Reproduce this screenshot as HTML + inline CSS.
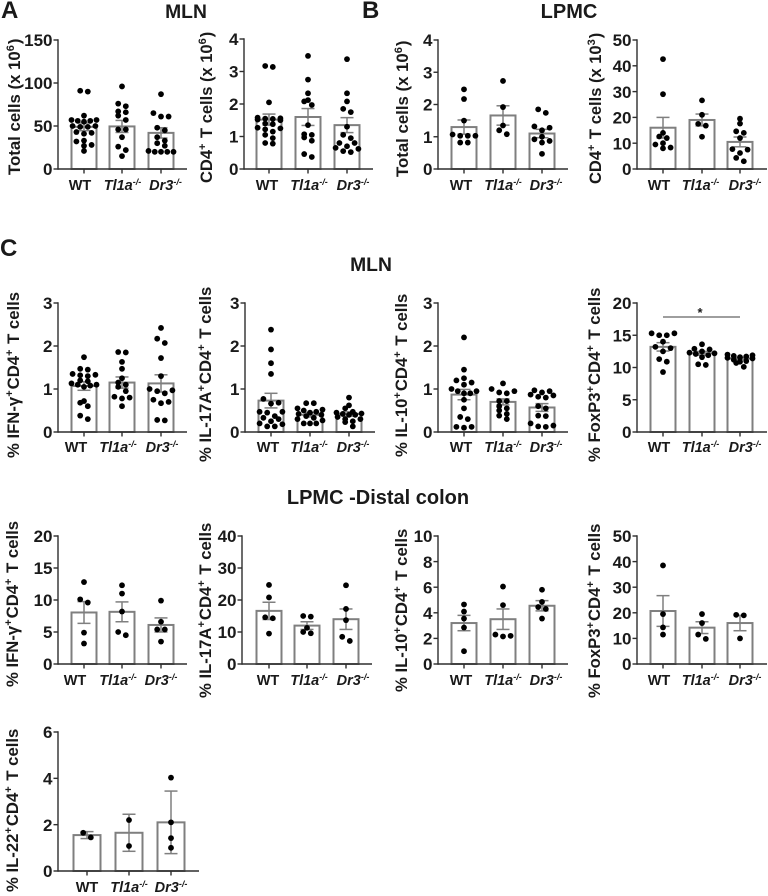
<!DOCTYPE html>
<html lang="en">
<head>
<meta charset="utf-8">
<title>MLN and LPMC T cell panels</title>
<style>
html,body{margin:0;padding:0;background:#fff;width:768px;height:896px;overflow:hidden}
svg{display:block}
text{font-family:"Liberation Sans",Arial,sans-serif;font-weight:bold;fill:#1a1a1a}
</style>
</head>
<body>
<svg id="figure" width="768" height="896" viewBox="0 0 768 896" xmlns="http://www.w3.org/2000/svg">
  <text x="1" y="18" font-size="24">A</text>
  <text x="362" y="18" font-size="24">B</text>
  <text x="0" y="256" font-size="24">C</text>
  <text x="186" y="18" font-size="19.3" text-anchor="middle">MLN</text>
  <text x="569" y="18" font-size="20" text-anchor="middle">LPMC</text>
  <text x="371" y="271" font-size="19.3" text-anchor="middle">MLN</text>
  <text x="378" y="504" font-size="20" text-anchor="middle">LPMC -Distal colon</text>
</svg>
<script>
// Shared categories
const categories = ['WT', 'Tl1a', 'Dr3'];

// Total cells MLN
const a1Ticks = [0, 50, 100, 150];
const a1Means = [49, 49.5, 42];
const a1Errors = [4.5, 7, 6];
const a1Wt = [91, 90, 62, 57, 57, 56, 56, 55, 50, 50, 49, 49, 43, 42, 41, 33, 32, 28, 27, 21];
const a1Tl1a = [96, 76, 73, 67, 66, 62, 57, 46, 46, 37, 26, 22, 15];
const a1Dr3 = [87, 65, 61, 61, 48, 45, 37, 33, 30, 27, 21, 20, 20, 20, 20];

// CD4 T cells MLN
const a2Ticks = [0, 1, 2, 3, 4];
const a2Means = [1.52, 1.6, 1.35];
const a2Errors = [0.17, 0.26, 0.23];
const a2Wt = [3.17, 3.14, 2.05, 1.58, 1.56, 1.55, 1.54, 1.52, 1.5, 1.4, 1.38, 1.27, 1.25, 1.22, 1.15, 1.05, 0.95, 0.8, 0.78];
const a2Tl1a = [3.48, 2.75, 2.33, 2.12, 2.08, 1.97, 1.35, 1.07, 1.05, 0.97, 0.87, 0.46, 0.37];
const a2Dr3 = [3.38, 2.33, 2.08, 1.85, 1.75, 1.3, 1.05, 0.95, 0.8, 0.8, 0.7, 0.65, 0.62, 0.55, 0.52];

// Total cells LPMC
const b1Ticks = [0, 1, 2, 3, 4];
const b1Means = [1.3, 1.66, 1.1];
const b1Errors = [0.22, 0.3, 0.13];
const b1Wt = [2.47, 2.17, 1.5, 1.07, 1.03, 1.03, 1.03, 0.82, 0.82];
const b1Tl1a = [2.73, 1.92, 1.35, 1.2, 1.08];
const b1Dr3 = [1.85, 1.74, 1.32, 1.28, 1.2, 1.0, 0.92, 0.87, 0.82, 0.47];

// CD4 T cells LPMC
const b2Ticks = [0, 10, 20, 30, 40, 50];
const b2Means = [16, 19, 10.5];
const b2Errors = [4, 2.3, 1.9];
const b2Wt = [42.6, 29, 14, 12.6, 12, 10, 9.5, 8.3, 8];
const b2Tl1a = [26.6, 21, 17.5, 16.8, 12.5];
const b2Dr3 = [19.5, 17.6, 14.6, 14, 12, 7.7, 7.5, 6.2, 4.3, 3];

// MLN cytokines
const c1Ticks = [0, 1, 2, 3];
const c1Means = [1.07, 1.15, 1.13];
const c1Errors = [0.1, 0.13, 0.2];
const c1Wt = [1.74, 1.47, 1.45, 1.35, 1.33, 1.32, 1.3, 1.2, 1.18, 1.13, 1.1, 1.1, 1.08, 1.05, 0.72, 0.68, 0.6, 0.38, 0.3];
const c1Tl1a = [1.86, 1.85, 1.63, 1.47, 1.25, 1.15, 1.1, 1.05, 0.95, 0.82, 0.8, 0.78, 0.6];
const c1Dr3 = [2.42, 2.17, 2.07, 1.72, 1.3, 1.0, 0.97, 0.95, 0.9, 0.75, 0.7, 0.67, 0.28, 0.27];

const c2Ticks = [0, 1, 2, 3];
const c2Means = [0.73, 0.4, 0.42];
const c2Errors = [0.17, 0.05, 0.05];
const c2Wt = [2.38, 1.92, 1.6, 1.35, 0.77, 0.68, 0.66, 0.47, 0.47, 0.45, 0.37, 0.33, 0.3, 0.25, 0.2, 0.18, 0.13, 0.13];
const c2Tl1a = [0.67, 0.67, 0.55, 0.52, 0.5, 0.47, 0.45, 0.42, 0.4, 0.37, 0.33, 0.3, 0.27, 0.2, 0.2, 0.2];
const c2Dr3 = [0.8, 0.62, 0.55, 0.47, 0.45, 0.43, 0.42, 0.4, 0.4, 0.35, 0.3, 0.3, 0.25, 0.23, 0.13];

const c3Ticks = [0, 1, 2, 3];
const c3Means = [0.87, 0.7, 0.57];
const c3Errors = [0.12, 0.07, 0.09];
const c3Wt = [2.2, 1.45, 1.25, 1.2, 1.15, 1.1, 1.0, 0.95, 0.95, 0.9, 0.9, 0.75, 0.55, 0.35, 0.3, 0.12, 0.12, 0.1];
const c3Tl1a = [1.13, 1.0, 0.95, 0.92, 0.9, 0.72, 0.72, 0.6, 0.55, 0.5, 0.42, 0.38, 0.3];
const c3Dr3 = [0.97, 0.95, 0.92, 0.87, 0.85, 0.82, 0.8, 0.6, 0.55, 0.38, 0.37, 0.2, 0.15, 0.13, 0.12];

const c4Ticks = [0, 5, 10, 15, 20];
const c4Means = [13.2, 12.2, 11.4];
const c4Errors = [0.65, 0.3, 0.15];
const c4Wt = [15.3, 15.3, 15, 15, 14, 13.2, 13, 12.5, 11.3, 10.9, 9.3];
const c4Tl1a = [13.6, 12.9, 12.8, 12.5, 12.3, 12.2, 12.1, 11.9, 11.6, 10.5, 10.4];
const c4Dr3 = [12, 11.9, 11.8, 11.7, 11.6, 11.5, 11.4, 11.2, 11, 10.9, 10.7, 10.1];

// LPMC distal colon cytokines
const d1Ticks = [0, 5, 10, 15, 20];
const d1Means = [8.05, 8.15, 6.1];
const d1Errors = [1.7, 1.55, 1.1];
const d1Wt = [12.8, 10.1, 9.6, 4.9, 3.2];
const d1Tl1a = [12.3, 11, 8.2, 5, 4.5];
const d1Dr3 = [9.9, 6.6, 5.4, 5.4, 3.5];

const d2Ticks = [0, 10, 20, 30, 40];
const d2Means = [16.6, 12, 14];
const d2Errors = [2.7, 1.2, 3.2];
const d2Wt = [24.7, 20.8, 14.6, 14.3, 9.5];
const d2Tl1a = [15, 14.8, 11.3, 10, 9.6];
const d2Dr3 = [24.6, 17.2, 13.7, 8.5, 7.2];

const d3Ticks = [0, 2, 4, 6, 8, 10];
const d3Means = [3.2, 3.5, 4.55];
const d3Errors = [0.6, 0.8, 0.4];
const d3Wt = [4.65, 4.1, 3.55, 2.85, 1.0];
const d3Tl1a = [6.05, 4.6, 2.3, 2.2, 2.15];
const d3Dr3 = [5.8, 4.85, 4.45, 4.3, 3.55];

const d4Ticks = [0, 10, 20, 30, 40, 50];
const d4Means = [20.7, 14.2, 16];
const d4Errors = [6, 2.3, 3];
const d4Wt = [38.5, 19.5, 14.3, 11.5];
const d4Tl1a = [19.5, 16, 11.5, 9.8];
const d4Dr3 = [19.2, 19, 10];

const e1Ticks = [0, 2, 4, 6];
const e1Means = [1.55, 1.65, 2.1];
const e1Errors = [0.15, 0.8, 1.35];
const e1Wt = [1.65, 1.45];
const e1Tl1a = [2.2, 1.08];
const e1Dr3 = [4.03, 2.1, 1.42, 1.0];

// Layout (geometry only; all marks are derived from the arrays above)
const supTight = s => '<tspan dy="-6" font-size="11">' + s + '</tspan><tspan dy="6" dx="1">';
const ifn = '% IFN-\u03B3' + supTight('+') + 'CD4</tspan>' + supTight('+') + ' T cells</tspan>';
const il17 = '% IL-17A' + supTight('+') + 'CD4</tspan>' + supTight('+') + ' T cells</tspan>';
const il10 = '% IL-10' + supTight('+') + 'CD4</tspan>' + supTight('+') + ' T cells</tspan>';
const foxp3 = '% FoxP3' + supTight('+') + 'CD4</tspan>' + supTight('+') + ' T cells</tspan>';
const il22 = '% IL-22' + supTight('+') + 'CD4</tspan>' + supTight('+') + ' T cells</tspan>';

const panels = [
  {id:'total-cells-mln', ticks:a1Ticks, means:a1Means, errors:a1Errors, points:[a1Wt,a1Tl1a,a1Dr3], ax:58, right:187, top:40, base:169, cx:[84,122,161], lx:[80,122.5,165.5], ly:190, lbx:20, lby:175, fs:16.8,
    label:'Total cells (x 10' + supTight('6') + ')</tspan>'},
  {id:'cd4-cells-mln', ticks:a2Ticks, means:a2Means, errors:a2Errors, points:[a2Wt,a2Tl1a,a2Dr3], ax:244, right:373, top:39, base:169, cx:[269,308,347], lx:[267,309,353], ly:190, lbx:212, lby:183, fs:16.5,
    label:'CD4' + supTight('+') + ' T cells (x 10</tspan>' + supTight('6') + ')</tspan>'},
  {id:'total-cells-lpmc', ticks:b1Ticks, means:b1Means, errors:b1Errors, points:[b1Wt,b1Tl1a,b1Dr3], ax:438, right:568, top:40, base:169, cx:[464,503,542], lx:[461,503,546], ly:190, lbx:408, lby:177, fs:16.8,
    label:'Total cells (x 10' + supTight('6') + ')</tspan>'},
  {id:'cd4-cells-lpmc', ticks:b2Ticks, means:b2Means, errors:b2Errors, points:[b2Wt,b2Tl1a,b2Dr3], ax:637, right:767, top:40, base:169, cx:[663,702,740], lx:[659,700.5,745], ly:190, lbx:601, lby:184, fs:16.5,
    label:'CD4' + supTight('+') + ' T cells (x 10</tspan>' + supTight('3') + ')</tspan>'},
  {id:'ifn-mln', ticks:c1Ticks, means:c1Means, errors:c1Errors, points:[c1Wt,c1Tl1a,c1Dr3], ax:58, right:187, top:303, base:432, cx:[84,122,161], lx:[76,118,162], ly:452, lbx:19, lby:458, label:ifn},
  {id:'il17-mln', ticks:c2Ticks, means:c2Means, errors:c2Errors, points:[c2Wt,c2Tl1a,c2Dr3], ax:245, right:375, top:303, base:432, cx:[271,310,349], lx:[268,309,353], ly:452, lbx:211, lby:462, label:il17},
  {id:'il10-mln', ticks:c3Ticks, means:c3Means, errors:c3Errors, points:[c3Wt,c3Tl1a,c3Dr3], ax:438, right:568, top:303, base:432, cx:[464,503,542], lx:[461,503,546], ly:452, lbx:407, lby:457, label:il10},
  {id:'foxp3-mln', ticks:c4Ticks, means:c4Means, errors:c4Errors, points:[c4Wt,c4Tl1a,c4Dr3], ax:637, right:767, top:303, base:432, cx:[663,702,740], lx:[659,700.5,745], ly:452, lbx:600, lby:462, label:foxp3},
  {id:'ifn-lpmc', ticks:d1Ticks, means:d1Means, errors:d1Errors, points:[d1Wt,d1Tl1a,d1Dr3], ax:58, right:187, top:536, base:664, cx:[84,122,161], lx:[75,118,161], ly:685, lbx:18, lby:687, label:ifn},
  {id:'il17-lpmc', ticks:d2Ticks, means:d2Means, errors:d2Errors, points:[d2Wt,d2Tl1a,d2Dr3], ax:242, right:372, top:536, base:664, cx:[269,307,346], lx:[268,309,353], ly:685, lbx:211, lby:698, label:il17},
  {id:'il10-lpmc', ticks:d3Ticks, means:d3Means, errors:d3Errors, points:[d3Wt,d3Tl1a,d3Dr3], ax:438, right:568, top:536, base:664, cx:[464,503,542], lx:[461,503,546], ly:685, lbx:407, lby:692, label:il10},
  {id:'foxp3-lpmc', ticks:d4Ticks, means:d4Means, errors:d4Errors, points:[d4Wt,d4Tl1a,d4Dr3], ax:637, right:767, top:536, base:664, cx:[663,702,740], lx:[659,700.5,745], ly:685, lbx:600, lby:698, label:foxp3},
  {id:'il22-lpmc', ticks:e1Ticks, means:e1Means, errors:e1Errors, points:[e1Wt,e1Tl1a,e1Dr3], ax:58, right:199, top:732, base:871, cx:[87,129,171], lx:[87,129,171], ly:892, lbx:18, lby:892, barW:27, label:il22}
];

const svg = document.getElementById('figure');
const NS = 'http://www.w3.org/2000/svg';
const GREY = '#7f7f7f';
const AXIS = '#2e2e2e';

function shape(parent, tag, attrs) {
  const el = document.createElementNS(NS, tag);
  for (const k in attrs) el.setAttribute(k, attrs[k]);
  parent.appendChild(el);
  return el;
}

function yScale(p) {
  const max = p.ticks[p.ticks.length - 1];
  return v => p.base - (v / max) * (p.base - p.top);
}

// Prism-style swarm: group near-equal values into rows, spread rows around the centre
function swarm(values, y, spacing) {
  const sorted = values.slice().sort((a, b) => a - b);
  const out = [];
  let row = [];
  const flush = () => {
    const n = row.length;
    const step = n > 1 ? Math.min(spacing, 25 / (n - 1)) : spacing;
    const slots = [];
    for (let i = 0; i < n; i++) slots.push(i - (n - 1) / 2);
    slots.sort((a, b) => Math.abs(a) - Math.abs(b) || b - a);
    row.forEach((v, i) => out.push({ v: v, dx: slots[i] * step }));
    row = [];
  };
  sorted.forEach(v => {
    if (row.length && (y(row[0]) - y(v) > 4.8 || row.length >= 5)) flush();
    row.push(v);
  });
  flush();
  return out;
}

panels.forEach(p => {
  const y = yScale(p);
  const barW = p.barW || 25;
  const g = shape(svg, 'g', {});
  
  

  // bars
  p.means.forEach((m, i) => {
    const bar = shape(g, 'rect', {x: p.cx[i] - barW / 2, y: y(m), width: barW, height: p.base - y(m), fill: '#fff', stroke: GREY, 'stroke-width': 2});
    
    
  });

  // error bars
  p.means.forEach((m, i) => {
    const hi = y(m + p.errors[i]);
    const lo = y(m - p.errors[i]);
    const stem = shape(g, 'line', {x1: p.cx[i], x2: p.cx[i], y1: hi, y2: lo, stroke: GREY, 'stroke-width': 1.5});
    
    
    [hi, lo].forEach(cap => {
      const c = shape(g, 'line', {x1: p.cx[i] - 6.5, x2: p.cx[i] + 6.5, y1: cap, y2: cap, stroke: GREY, 'stroke-width': 1.5});
      
      
    });
  });

  // points
  p.points.forEach((vals, i) => {
    swarm(vals, y, 7.6).forEach(pt => {
      const dot = shape(g, 'circle', {cx: p.cx[i] + pt.dx, cy: y(pt.v), r: 2.9, fill: '#000'});
      
      
    });
  });

  // y axis
  const yAxis = shape(g, 'line', {x1: p.ax, x2: p.ax, y1: p.top - 0.7, y2: p.base + 0.7, stroke: AXIS, 'stroke-width': 1.4});
  
  
  p.ticks.forEach(t => {
    const tk = shape(g, 'line', {x1: p.ax - 4.5, x2: p.ax, y1: y(t), y2: y(t), stroke: AXIS, 'stroke-width': 1.4});
    
    
    const lab = shape(g, 'text', {x: p.ax - 5.5, y: y(t) + 6.2, 'font-size': 17, 'text-anchor': 'end'});
    
    
    lab.textContent = t;
  });

  // x axis
  const xAxis = shape(g, 'line', {x1: p.ax, x2: p.right, y1: p.base, y2: p.base, stroke: AXIS, 'stroke-width': 1.4});
  
  
  categories.forEach((c, i) => {
    const tk = shape(g, 'line', {x1: p.cx[i], x2: p.cx[i], y1: p.base, y2: p.base + 4.5, stroke: AXIS, 'stroke-width': 1.4});
    
    
    const lab = shape(g, 'text', {x: p.lx[i], y: p.ly, 'font-size': 14.5, 'text-anchor': 'middle'});
    
    
    if (c === 'WT') {
      lab.textContent = c;
    } else {
      lab.innerHTML = '<tspan font-style="italic">' + c + '</tspan><tspan font-style="italic" font-size="9" dy="-5">-/-</tspan>';
    }
  });

  // y axis title
  const title = shape(g, 'text', {transform: 'translate(' + p.lbx + ',' + p.lby + ') rotate(-90)', 'font-size': p.fs || 16.7});
  
  
  title.innerHTML = p.label;
});

// Significance marker on the FoxP3 MLN panel
const sigBar = shape(svg, 'line', {x1: 663, x2: 740, y1: 317, y2: 317, stroke: GREY, 'stroke-width': 1.4});


const sigStar = shape(svg, 'text', {x: 700, y: 317, 'font-size': 13, 'text-anchor': 'middle'});


sigStar.textContent = '*';
</script>
</body>
</html>
